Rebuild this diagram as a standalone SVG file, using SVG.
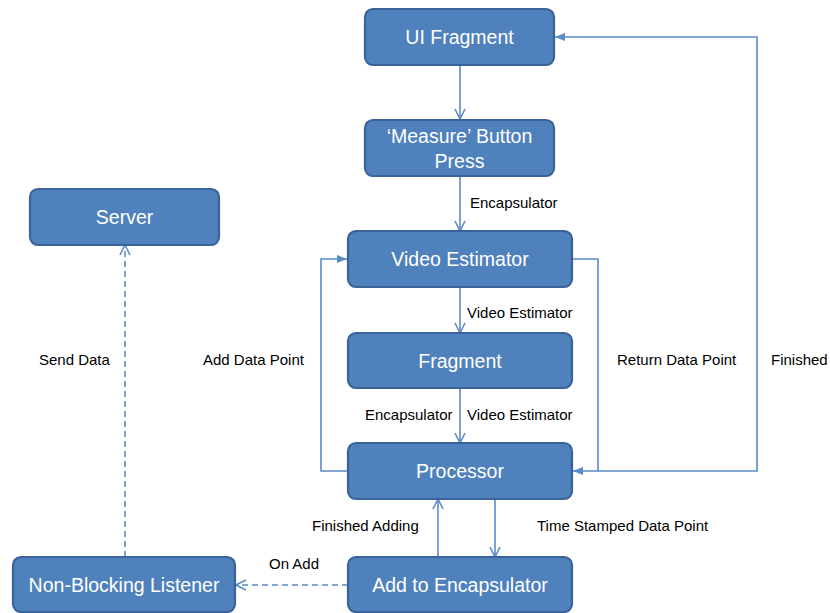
<svg xmlns="http://www.w3.org/2000/svg" width="830" height="613" viewBox="0 0 830 613">
  <style>
    .node rect { fill: #4F81BD; stroke: #3A639A; stroke-width: 2.2; }
    .node text { fill: #FFFFFF; font-family: "Liberation Sans", "Open Sans", sans-serif; font-size: 19.5px; text-anchor: middle; }
    .edge { fill: none; stroke: #5B8BC7; stroke-width: 1.6; }
    .dash { stroke-dasharray: 6 4; }
    .label { fill: #000000; font-family: "Liberation Sans", "Open Sans", sans-serif; font-size: 15px; }
  </style>
  <defs>
    <marker id="open" viewBox="0 0 12 12" refX="11" refY="6" markerWidth="12" markerHeight="12" markerUnits="userSpaceOnUse" orient="auto">
      <path d="M1,1 L11,6 L1,11" fill="none" stroke="#5B8BC7" stroke-width="1.6"/>
    </marker>
    <marker id="solid" viewBox="0 0 12 12" refX="11" refY="6" markerWidth="11" markerHeight="11" markerUnits="userSpaceOnUse" orient="auto">
      <path d="M0,1.5 L11,6 L0,10.5 Z" fill="#5B8BC7"/>
    </marker>
  </defs>

  <g id="connectors">
    <!-- main vertical flow -->
    <line class="edge" x1="460" y1="65" x2="460" y2="119" marker-end="url(#open)"/>
    <line class="edge" x1="460" y1="176" x2="460" y2="231" marker-end="url(#open)"/>
    <line class="edge" x1="460" y1="287" x2="460" y2="333" marker-end="url(#open)"/>
    <line class="edge" x1="460" y1="388" x2="460" y2="443" marker-end="url(#open)"/>
    <!-- add data point loop -->
    <polyline class="edge" points="348,471 321,471 321,259 347,259" marker-end="url(#solid)"/>
    <!-- return data point loop -->
    <polyline class="edge" points="572,259 598,259 598,471 573,471" marker-end="url(#solid)"/>
    <!-- finished loop -->
    <polyline class="edge" points="598,471 757,471 757,37 555,37" marker-end="url(#solid)"/>
    <!-- processor / add to encapsulator -->
    <line class="edge" x1="495" y1="499" x2="495" y2="557" marker-end="url(#open)"/>
    <line class="edge" x1="438" y1="557" x2="438" y2="499" marker-end="url(#open)"/>
    <!-- dashed links -->
    <line class="edge dash" x1="348" y1="585" x2="236" y2="585" marker-end="url(#open)"/>
    <line class="edge dash" x1="125" y1="557" x2="125" y2="245" marker-end="url(#open)"/>

    <text class="label" x="470" y="208">Encapsulator</text>
    <text class="label" x="467" y="318">Video Estimator</text>
    <text class="label" x="365" y="420">Encapsulator</text>
    <text class="label" x="467" y="420">Video Estimator</text>
    <text class="label" x="203" y="365">Add Data Point</text>
    <text class="label" x="617" y="365">Return Data Point</text>
    <text class="label" x="771" y="365">Finished</text>
    <text class="label" x="312" y="531">Finished Adding</text>
    <text class="label" x="537" y="531">Time Stamped Data Point</text>
    <text class="label" x="269" y="569">On Add</text>
    <text class="label" x="39" y="365">Send Data</text>
  </g>

  <g id="ui-fragment" class="node">
    <rect x="365" y="9" width="189" height="56" rx="8"/>
    <text x="459.5" y="44">UI Fragment</text>
  </g>
  <g id="measure-button" class="node">
    <rect x="365" y="120" width="189" height="56" rx="8"/>
    <text x="459.5" y="143">‘Measure’ Button</text>
    <text x="459.5" y="168">Press</text>
  </g>
  <g id="video-estimator" class="node">
    <rect x="348" y="231" width="224" height="56" rx="8"/>
    <text x="460" y="266">Video Estimator</text>
  </g>
  <g id="fragment" class="node">
    <rect x="348" y="333" width="224" height="55" rx="8"/>
    <text x="460" y="368">Fragment</text>
  </g>
  <g id="processor" class="node">
    <rect x="348" y="443" width="224" height="56" rx="8"/>
    <text x="460" y="478">Processor</text>
  </g>
  <g id="add-to-encapsulator" class="node">
    <rect x="348" y="557" width="224" height="55" rx="8"/>
    <text x="460" y="592">Add to Encapsulator</text>
  </g>
  <g id="non-blocking-listener" class="node">
    <rect x="13" y="557" width="222" height="55" rx="8"/>
    <text x="124" y="592">Non-Blocking Listener</text>
  </g>
  <g id="server" class="node">
    <rect x="30" y="189" width="189" height="56" rx="8"/>
    <text x="124.5" y="224">Server</text>
  </g>
</svg>
